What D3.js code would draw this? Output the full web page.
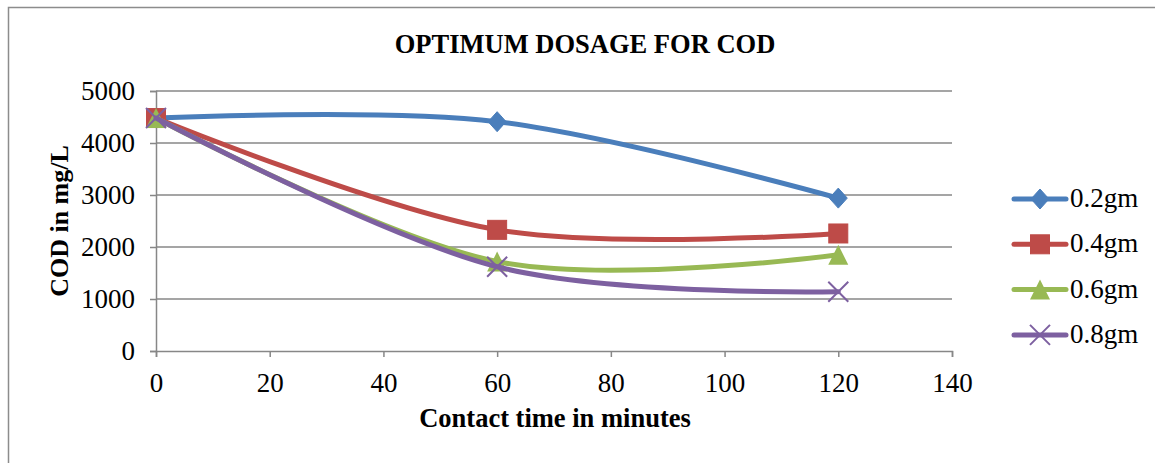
<!DOCTYPE html>
<html>
<head>
<meta charset="utf-8">
<script src="https://cdn.jsdelivr.net/npm/d3@7/dist/d3.min.js"></script>
<style>
  html, body { margin: 0; padding: 0; background: #fff; }
  svg { display: block; font-family: "Liberation Serif", "Times New Roman", serif; }
</style>
</head>
<body>
<svg id="chart" width="1155" height="463"></svg>
<script>
// Contact time (minutes) and COD (mg/L) for each adsorbent dosage
const contactTime = [0, 60, 120];
const seriesNames = ["0.2gm", "0.4gm", "0.6gm", "0.8gm"];
const cod02 = [4480, 4410, 2940];
const cod04 = [4480, 2330, 2260];
const cod06 = [4480, 1720, 1850];
const cod08 = [4480, 1620, 1140];
const xTicks = [0, 20, 40, 60, 80, 100, 120, 140];
const yTicks = [0, 1000, 2000, 3000, 4000, 5000];

const colors = ["#4A7EBB", "#BE4B48", "#98B954", "#7D60A0"];
const markers = ["diamond", "square", "triangle", "cross"];
const seriesValues = [cod02, cod04, cod06, cod08];

const svg = d3.select("#chart");

// outer chart frame
svg.append("rect")
  .attr("x", 8.5).attr("y", 7.5)
  .attr("width", 1160).attr("height", 470)
  .attr("fill", "none").attr("stroke", "#8c8c8c").attr("stroke-width", 1.5);

const plot = { left: 156, right: 952, top: 91, bottom: 351 };
const x = d3.scaleLinear().domain([0, 140]).range([plot.left, plot.right]);
const y = d3.scaleLinear().domain([0, 5000]).range([plot.bottom, plot.top]);

const axisColor = "#878787";
const tickFont = 27;
const lineWidth = 5;

// horizontal gridlines
svg.append("g")
  .selectAll("line")
  .data(yTicks.filter(d => d > 0))
  .join("line")
  .attr("x1", plot.left).attr("x2", plot.right)
  .attr("y1", d => y(d)).attr("y2", d => y(d))
  .attr("stroke", axisColor).attr("stroke-width", 1.5);

// y axis
const yAxis = svg.append("g")
  .attr("transform", `translate(${plot.left},0)`)
  .call(d3.axisLeft(y).tickValues(yTicks).tickSize(6).tickPadding(15).tickFormat(d3.format("d")));
yAxis.select(".domain").attr("stroke", axisColor).attr("stroke-width", 1.5);
yAxis.selectAll(".tick line").attr("stroke", axisColor).attr("stroke-width", 1.5);
yAxis.selectAll(".tick text")
  .attr("fill", "#000").attr("font-size", tickFont)
  .attr("font-family", "Liberation Serif, serif");

// x axis
const xAxis = svg.append("g")
  .attr("transform", `translate(0,${plot.bottom})`)
  .call(d3.axisBottom(x).tickValues(xTicks).tickSize(6).tickSizeOuter(6).tickPadding(16).tickFormat(d3.format("d")));
xAxis.select(".domain").attr("stroke", axisColor).attr("stroke-width", 1.5);
xAxis.selectAll(".tick line").attr("stroke", axisColor).attr("stroke-width", 1.5);
xAxis.selectAll(".tick text")
  .attr("fill", "#000").attr("font-size", tickFont)
  .attr("font-family", "Liberation Serif, serif");

// titles
svg.append("text")
  .attr("x", 585).attr("y", 53)
  .attr("text-anchor", "middle")
  .attr("font-weight", "bold").attr("font-size", 26.5)
  .text("OPTIMUM DOSAGE FOR COD");

svg.append("text")
  .attr("x", 555).attr("y", 427)
  .attr("text-anchor", "middle")
  .attr("font-weight", "bold").attr("font-size", 26.5)
  .text("Contact time in minutes");

svg.append("text")
  .attr("transform", "translate(68,221) rotate(-90)")
  .attr("text-anchor", "middle")
  .attr("font-weight", "bold").attr("font-size", 26)
  .text("COD in mg/L");

// smoothed series lines
const line = d3.line()
  .x((d, i) => x(contactTime[i]))
  .y(d => y(d))
  .curve(d3.curveCardinal.tension(0));

function drawMarker(g, type, color, cx, cy) {
  if (type === "diamond") {
    g.append("path")
      .attr("d", `M${cx},${cy - 10}L${cx + 9},${cy}L${cx},${cy + 10}L${cx - 9},${cy}Z`)
      .attr("fill", color).attr("stroke", color).attr("stroke-width", 1);
  } else if (type === "square") {
    g.append("rect")
      .attr("x", cx - 9.5).attr("y", cy - 9.5).attr("width", 19).attr("height", 19)
      .attr("fill", color).attr("stroke", color).attr("stroke-width", 1);
  } else if (type === "triangle") {
    g.append("path")
      .attr("d", `M${cx},${cy - 10}L${cx + 10},${cy + 10}L${cx - 10},${cy + 10}Z`)
      .attr("fill", color);
  } else {
    g.append("path")
      .attr("d", `M${cx - 10},${cy - 10}L${cx + 10},${cy + 10}M${cx + 10},${cy - 10}L${cx - 10},${cy + 10}`)
      .attr("stroke", color).attr("stroke-width", 2).attr("fill", "none");
  }
}

const seriesG = svg.append("g");
seriesValues.forEach((vals, s) => {
  const g = seriesG.append("g");
  g.append("path")
    .attr("d", line(vals))
    .attr("fill", "none").attr("stroke", colors[s])
    .attr("stroke-width", lineWidth).attr("stroke-linecap", "round").attr("stroke-linejoin", "round");
  vals.forEach((v, i) => drawMarker(g, markers[s], colors[s], x(contactTime[i]), y(v)));
});

// legend
const legend = svg.append("g");
seriesNames.forEach((name, s) => {
  const ly = 199 + s * 45.3;
  const g = legend.append("g");
  g.append("line")
    .attr("x1", 1014).attr("x2", 1066).attr("y1", ly).attr("y2", ly)
    .attr("stroke", colors[s]).attr("stroke-width", lineWidth).attr("stroke-linecap", "round");
  drawMarker(g, markers[s], colors[s], 1040, ly);
  g.append("text")
    .attr("x", 1070).attr("y", ly + 8)
    .attr("font-size", tickFont)
    .text(name);
});
</script>
</body>
</html>
